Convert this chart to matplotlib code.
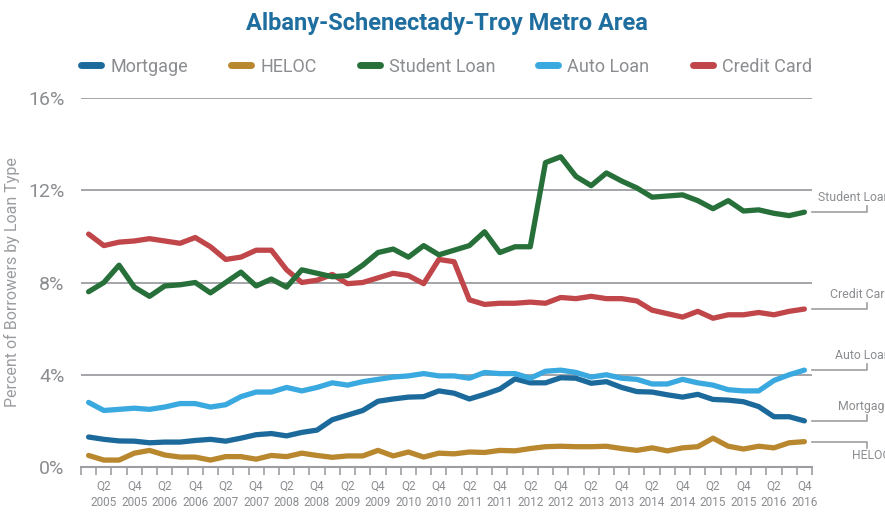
import matplotlib
matplotlib.use("Agg")
import matplotlib.pyplot as plt
import numpy as np

plt.rcParams['font.family'] = ['Roboto', 'DejaVu Sans']

# quarterly data, Q1 2005 .. Q4 2016
years = list(range(2005, 2017))
tick_labels = []
for y in years:
    tick_labels.append(f"Q2\n{y}")
    tick_labels.append(f"Q4\n{y}")

mortgage = [1.30, 1.20, 1.13, 1.12, 1.05, 1.08, 1.08, 1.15, 1.20, 1.12, 1.25, 1.40,
            1.45, 1.35, 1.50, 1.60, 2.05, 2.25, 2.45, 2.85, 2.95, 3.03, 3.05, 3.30,
            3.20, 2.95, 3.15, 3.38, 3.82, 3.65, 3.65, 3.87, 3.85, 3.63, 3.70, 3.45,
            3.27, 3.25, 3.13, 3.03, 3.15, 2.93, 2.90, 2.83, 2.62, 2.18, 2.18, 2.00]
heloc = [0.50, 0.30, 0.30, 0.60, 0.72, 0.52, 0.43, 0.43, 0.30, 0.45, 0.45, 0.34,
         0.50, 0.45, 0.60, 0.50, 0.42, 0.48, 0.48, 0.72, 0.48, 0.65, 0.43, 0.60,
         0.57, 0.65, 0.63, 0.72, 0.70, 0.80, 0.88, 0.90, 0.88, 0.88, 0.90, 0.80,
         0.72, 0.83, 0.70, 0.83, 0.88, 1.25, 0.90, 0.78, 0.90, 0.83, 1.05, 1.10]
student = [7.60, 8.00, 8.75, 7.80, 7.40, 7.85, 7.90, 8.00, 7.55, 8.00, 8.45, 7.85,
           8.15, 7.80, 8.55, 8.40, 8.25, 8.30, 8.75, 9.30, 9.45, 9.10, 9.60, 9.20,
           9.40, 9.60, 10.20, 9.30, 9.55, 9.55, 13.20, 13.45, 12.60, 12.20, 12.75, 12.40,
           12.10, 11.70, 11.75, 11.80, 11.55, 11.20, 11.55, 11.10, 11.15, 11.00, 10.90, 11.05]
auto = [2.80, 2.45, 2.50, 2.55, 2.50, 2.60, 2.75, 2.75, 2.60, 2.70, 3.05, 3.25,
        3.25, 3.45, 3.30, 3.45, 3.65, 3.55, 3.70, 3.80, 3.90, 3.95, 4.05, 3.95,
        3.95, 3.85, 4.10, 4.05, 4.05, 3.85, 4.15, 4.20, 4.10, 3.90, 4.00, 3.85,
        3.80, 3.60, 3.60, 3.80, 3.65, 3.55, 3.35, 3.30, 3.30, 3.75, 4.00, 4.20]
credit = [10.10, 9.60, 9.75, 9.80, 9.90, 9.80, 9.70, 9.95, 9.55, 9.00, 9.10, 9.40,
          9.40, 8.55, 8.00, 8.10, 8.35, 7.95, 8.00, 8.20, 8.40, 8.30, 7.95, 9.00,
          8.90, 7.25, 7.05, 7.10, 7.10, 7.15, 7.10, 7.35, 7.30, 7.40, 7.30, 7.30,
          7.20, 6.80, 6.65, 6.50, 6.75, 6.45, 6.60, 6.60, 6.70, 6.60, 6.75, 6.85]

series = [
    ("Mortgage", mortgage, "#1c6a9c"),
    ("HELOC", heloc, "#b8872e"),
    ("Student Loan", student, "#27703a"),
    ("Auto Loan", auto, "#3aa9e0"),
    ("Credit Card", credit, "#c0464a"),
]
zorders = {"Mortgage": 3, "HELOC": 3, "Student Loan": 5, "Auto Loan": 4, "Credit Card": 4}

gray = "#8b8d90"
grid_gray = "#9d9ea1"

fig = plt.figure(figsize=(8.85, 5.17), dpi=100)
ax = fig.add_axes([81/885, 50/517, 731/885, 369/517])

x = np.arange(len(mortgage))
for name, vals, col in series:
    ax.plot(x, vals, color=col, linewidth=3.8, solid_capstyle='round',
            solid_joinstyle='round', label=name, zorder=zorders[name])

ax.set_xlim(-0.5, len(mortgage) - 0.5)
ax.set_ylim(0, 16)

# y axis
ax.set_yticks([0, 4, 8, 12, 16])
ax.set_yticklabels(["0%", "4%", "8%", "12%", "16%"])
ax.tick_params(axis='y', length=0, labelsize=14, labelcolor=gray, pad=12)
for v in [4, 8, 12, 16]:
    ax.axhline(v, color=grid_gray, linewidth=1.3, zorder=1)
ax.set_ylabel("Percent of Borrowers by Loan Type", color="#9a9c9f", fontsize=11.5, labelpad=6)

# x axis: labels at Q2/Q4, tick marks at quarter boundaries
ax.set_xticks(np.arange(1, len(mortgage), 2))
ax.set_xticklabels(tick_labels)
ax.set_xticks(np.arange(-0.5, len(mortgage), 1), minor=True)
ax.tick_params(axis='x', which='major', length=0, labelsize=8.5, labelcolor=gray, pad=9)
ax.tick_params(axis='x', which='minor', length=6, width=1.2, color=grid_gray)
for lbl in ax.get_xticklabels():
    lbl.set_linespacing(1.35)

for s in ['top', 'right', 'left']:
    ax.spines[s].set_visible(False)
ax.spines['bottom'].set_color(grid_gray)
ax.spines['bottom'].set_linewidth(1.5)

# right side labels with bracket lines
xe = len(mortgage) - 0.5
bracket = xe + 3.6
right_labels = [
    ("Student Loan", student[-1], 1, 0.4),
    ("Credit Card", credit[-1], 1, 1.2),
    ("Auto Loan", auto[-1], 1, 1.5),
    ("Mortgage", mortgage[-1], 1, 1.7),
    ("HELOC", heloc[-1], -1, 2.6),
]
for name, v, d, tx in right_labels:
    ax.plot([xe, bracket, bracket], [v, v, v + d * 0.26], color=grid_gray,
            linewidth=1.2, clip_on=False)
    ax.text(xe + tx, v + d * 0.62, name, color=gray, fontsize=8.8,
            va='center', ha='left', clip_on=False)

# title and legend
fig.text(0.505, 0.955, "Albany-Schenectady-Troy Metro Area", ha='center', va='center',
         fontsize=17, fontweight='bold', color="#1f6ea0")
leg = ax.legend(loc='center', bbox_to_anchor=(0.5, 1.085), ncol=5, frameon=False,
                fontsize=13, handlelength=1.1, handletextpad=0.5, columnspacing=2.4)
for t in leg.get_texts():
    t.set_color(gray)
for h in leg.get_lines():
    h.set_linewidth(5)
    h.set_solid_capstyle('round')

fig.savefig("out.png", dpi=100)
